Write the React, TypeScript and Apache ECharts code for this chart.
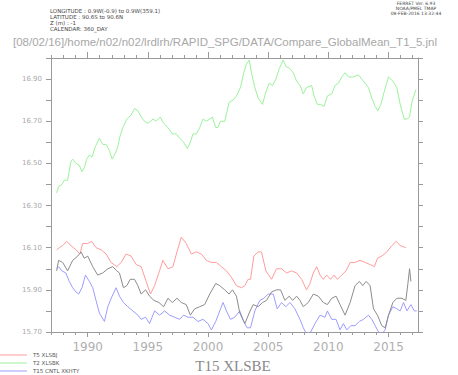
import React, { useEffect, useRef } from "react";
import * as echarts from "echarts";

const redYears = [1987.42,1987.64,1987.92,1988.25,1988.61,1989.03,1989.36,1989.58,1990.0,1990.33,1990.69,1991.11,1991.53,1991.94,1992.42,1992.78,1993.19,1993.61,1994.03,1994.44,1994.86,1995.22,1995.56,1995.97,1996.25,1996.67,1997.08,1997.42,1997.78,1998.19,1998.61,1999.03,1999.44,1999.86,2000.28,2000.69,2001.11,2001.53,2001.94,2002.36,2002.78,2003.06,2003.33,2003.53,2003.81,2004.17,2004.44,2004.81,2005.28,2005.69,2006.11,2006.53,2006.94,2007.36,2007.78,2008.19,2008.47,2008.75,2009.03,2009.31,2009.58,2009.86,2010.19,2010.47,2010.75,2011.11,2011.47,2011.81,2012.22,2012.64,2013.06,2013.47,2013.83,2014.08,2014.44,2014.86,2015.28,2015.64,2015.97,2016.44];
const redValues = [16.09,16.10,16.11,16.13,16.11,16.09,16.07,16.12,16.12,16.13,16.10,16.09,16.07,16.03,16.01,16.03,16.07,16.06,16.02,16.01,15.94,15.88,15.92,15.99,16.04,16.00,16.01,16.08,16.15,16.12,16.07,16.08,16.07,16.04,16.03,16.03,16.01,15.99,15.96,15.92,15.91,15.92,15.95,15.95,16.06,16.08,16.08,15.99,15.95,16.00,16.00,15.98,15.99,15.98,15.95,15.90,15.93,15.98,16.01,15.97,15.95,15.97,15.95,15.97,15.95,15.97,15.99,16.03,16.03,16.04,16.03,16.02,16.01,16.05,16.06,16.08,16.11,16.13,16.11,16.10];

const blackYears = [1987.42,1987.58,1987.92,1988.33,1988.75,1989.17,1989.44,1989.72,1990.0,1990.42,1990.83,1991.25,1991.67,1992.08,1992.42,1992.64,1992.97,1993.25,1993.53,1993.89,1994.17,1994.44,1994.81,1995.14,1995.5,1995.92,1996.31,1996.67,1997.03,1997.42,1997.78,1998.19,1998.53,1998.89,1999.31,1999.72,2000.14,2000.64,2000.97,2001.39,2001.75,2002.03,2002.36,2002.64,2003.06,2003.42,2003.75,2004.17,2004.53,2004.86,2005.28,2005.69,2006.03,2006.39,2006.75,2007.03,2007.36,2007.64,2007.92,2008.33,2008.75,2009.17,2009.58,2009.92,2010.28,2010.64,2010.97,2011.39,2011.81,2012.22,2012.58,2012.86,2013.14,2013.47,2013.75,2014.08,2014.44,2014.72,2015.0,2015.36,2015.69,2016.11,2016.44,2016.61,2016.75,2016.86];
const blackValues = [15.99,16.04,16.03,15.99,16.04,16.06,16.08,16.05,16.06,16.01,15.97,15.98,16.00,16.01,15.99,15.98,15.91,15.92,15.95,15.95,15.92,15.88,15.90,15.87,15.85,15.84,15.82,15.86,15.84,15.86,15.84,15.83,15.78,15.81,15.82,15.83,15.88,15.93,15.92,15.90,15.88,15.90,15.87,15.79,15.74,15.79,15.83,15.82,15.84,15.85,15.89,15.90,15.90,15.85,15.87,15.85,15.87,15.85,15.82,15.84,15.88,15.87,15.84,15.83,15.86,15.87,15.83,15.78,15.84,15.92,15.94,15.92,15.94,15.92,15.81,15.78,15.73,15.72,15.78,15.84,15.86,15.86,15.85,15.93,16.00,15.94];

const blueYears = [1987.42,1987.58,1987.86,1988.19,1988.47,1988.75,1989.03,1989.25,1989.53,1989.81,1990.14,1990.42,1990.69,1990.97,1991.39,1991.67,1992.03,1992.36,1992.64,1992.97,1993.33,1993.75,1994.17,1994.44,1994.81,1995.14,1995.56,1995.97,1996.39,1996.81,1997.22,1997.64,1997.97,1998.33,1998.75,1999.17,1999.58,2000.0,2000.28,2000.64,2000.97,2001.25,2001.53,2001.86,2002.22,2002.64,2002.97,2003.25,2003.53,2003.89,2004.31,2004.64,2005.0,2005.42,2005.75,2006.11,2006.47,2006.81,2007.22,2007.64,2007.92,2008.19,2008.53,2008.89,2009.31,2009.72,2009.92,2010.28,2010.64,2010.97,2011.25,2011.53,2011.86,2012.22,2012.58,2012.92,2013.33,2013.61,2013.89,2014.17,2014.44,2014.72,2015.0,2015.36,2015.69,2015.97,2016.25,2016.53,2016.86,2017.14,2017.35];
const blueValues = [16.00,16.01,15.99,15.98,15.94,15.91,15.89,15.88,15.91,15.97,15.94,15.91,15.85,15.79,15.75,15.82,15.87,15.91,15.87,15.84,15.82,15.80,15.78,15.76,15.77,15.74,15.80,15.78,15.80,15.78,15.77,15.76,15.78,15.77,15.77,15.75,15.76,15.74,15.71,15.75,15.80,15.84,15.80,15.76,15.77,15.80,15.75,15.72,15.72,15.80,15.85,15.86,15.88,15.88,15.81,15.84,15.82,15.84,15.81,15.76,15.72,15.69,15.70,15.74,15.78,15.77,15.80,15.76,15.76,15.71,15.74,15.71,15.73,15.73,15.75,15.76,15.78,15.76,15.73,15.70,15.69,15.71,15.78,15.82,15.81,15.80,15.84,15.80,15.83,15.80,15.80];

const greenYears = [1987.42,1987.58,1987.86,1988.06,1988.33,1988.61,1988.75,1989.03,1989.31,1989.53,1989.72,1989.92,1990.14,1990.36,1990.64,1990.97,1991.25,1991.53,1991.81,1992.03,1992.31,1992.5,1992.69,1992.92,1993.25,1993.61,1993.89,1994.17,1994.44,1994.72,1995.0,1995.42,1995.69,1996.03,1996.31,1996.67,1997.03,1997.36,1997.64,1997.97,1998.28,1998.53,1998.75,1999.03,1999.31,1999.58,1999.86,2000.14,2000.36,2000.64,2000.83,2001.03,2001.39,2001.75,2002.08,2002.36,2002.69,2002.97,2003.19,2003.42,2003.61,2003.89,2004.17,2004.53,2004.81,2005.08,2005.36,2005.64,2005.92,2006.25,2006.47,2006.81,2007.08,2007.36,2007.64,2007.92,2008.19,2008.61,2008.81,2009.08,2009.36,2009.64,2009.92,2010.28,2010.56,2010.83,2011.11,2011.39,2011.67,2012.08,2012.5,2012.78,2013.06,2013.33,2013.61,2013.89,2014.11,2014.36,2014.64,2015.0,2015.36,2015.69,2015.97,2016.31,2016.53,2016.75,2016.94,2017.28];
const greenValues = [16.36,16.39,16.40,16.42,16.42,16.51,16.52,16.50,16.49,16.46,16.48,16.52,16.54,16.53,16.58,16.62,16.59,16.59,16.56,16.52,16.55,16.58,16.63,16.67,16.71,16.73,16.76,16.75,16.72,16.70,16.69,16.71,16.70,16.72,16.69,16.67,16.64,16.64,16.62,16.60,16.57,16.60,16.64,16.64,16.67,16.71,16.70,16.71,16.72,16.67,16.67,16.70,16.70,16.79,16.80,16.82,16.86,16.93,16.97,16.99,16.93,16.86,16.81,16.78,16.84,16.88,16.87,16.90,16.95,16.99,16.96,16.95,16.93,16.89,16.87,16.83,16.86,16.87,16.82,16.78,16.78,16.77,16.82,16.83,16.87,16.88,16.91,16.93,16.91,16.91,16.92,16.90,16.88,16.86,16.81,16.77,16.75,16.78,16.84,16.91,16.89,16.86,16.78,16.71,16.71,16.72,16.79,16.85];

const xLabelYears = [1990, 1995, 2000, 2005, 2010, 2015];
const xMinorYears = [1987,1988,1989,1990,1991,1992,1993,1994,1995,1996,1997,1998,1999,2000,2001,2002,2003,2004,2005,2006,2007,2008,2009,2010,2011,2012,2013,2014,2015,2016,2017];
const yLabelValues = [15.7, 15.9, 16.1, 16.3, 16.5, 16.7, 16.9];
const yTickValues = [15.7,15.8,15.9,16.0,16.1,16.2,16.3,16.4,16.5,16.6,16.7,16.8,16.9,17.0];

const legendNames = ["T5 XLSBJ", "T2 XLSBK", "T15 CNTL XKHTY"];
const headerLeft = ["LONGITUDE : 0.9W(-0.9) to 0.9W(359.1)", "LATITUDE : 90.6S to 90.6N", "Z (m) : -1", "CALENDAR: 360_DAY"];
const headerRight = ["FERRET Ver. 6.93", "NOAA/PMEL TMAP", "08-FEB-2016 13:32:44"];
const pathTitle = "[08/02/16]/home/n02/n02/lrdlrh/RAPID_SPG/DATA/Compare_GlobalMean_T1_5.jnl";
const mainTitle = "T15 XLSBE";

const RED = "#ff9c9c";
const GREEN = "#9cf29c";
const BLUE = "#9c9cff";
const BLACK = "#8c8c8c";
const AXIS = "#9a9a9a";

const zip = (xs: number[], ys: number[]) => xs.map((x, i) => [x, ys[i]]);

export default function App() {
  const ref = useRef<HTMLDivElement>(null);
  useEffect(() => {
    document.body.style.margin = "0";
    const chart = echarts.init(ref.current!, null, { renderer: "svg" });
    const xBase = {
      type: "value" as const,
      min: 1986.95,
      max: 2017.45,
      splitLine: { show: false },
    };
    const yBase = {
      type: "value" as const,
      min: 15.7,
      max: 17.0,
      splitLine: { show: false },
    };
    const lineSeries = (name: string, data: number[][], color: string) => ({
      type: "line",
      name,
      data,
      showSymbol: false,
      symbol: "none",
      lineStyle: { color, width: 1 },
      itemStyle: { color },
      clip: true,
      silent: true,
    });
    const small = (text: string, x: number, y: number, size: number, color: string, align = "left") => ({
      type: "text",
      x,
      y,
      style: { text, fontSize: size, fontFamily: "DejaVu Sans", fill: color, textAlign: align, textVerticalAlign: "middle" },
    });
    const graphics: any[] = [];
    headerLeft.forEach((t, i) => graphics.push(small(t, 50, 11 + i * 6, 5.5, "#444")));
    headerRight.forEach((t, i) => graphics.push(small(t, 416, 3 + i * 5, 4.5, "#444", "center")));
    graphics.push({
      type: "text",
      x: 13,
      y: 42,
      style: { text: pathTitle, fontSize: 11.5, fontFamily: "Liberation Sans", fill: "#a8a8a8", textVerticalAlign: "middle" },
    });
    const legColors = [RED, GREEN, BLUE];
    legendNames.forEach((t, i) => {
      const y = 355 + i * 8;
      graphics.push({ type: "line", shape: { x1: 0, y1: y, x2: 27, y2: y }, style: { stroke: legColors[i], lineWidth: 1 } });
      graphics.push(small(t, 33, y, 5.5, "#555"));
    });
    graphics.push({
      type: "text",
      x: 233,
      y: 366,
      style: { text: mainTitle, fontSize: 15, fontFamily: "Liberation Serif", fill: "#8a8a8a", textAlign: "center", textVerticalAlign: "middle" },
    });

    chart.setOption({
      animation: false,
      backgroundColor: "#fff",
      grid: { left: 51, right: 40, top: 58, bottom: 43, containLabel: false },
      xAxis: [
        {
          ...xBase,
          position: "bottom",
          axisLine: { show: true, onZero: false, lineStyle: { color: AXIS, width: 1 } },
          axisTick: { show: true, inside: false, length: 3, customValues: xMinorYears, lineStyle: { color: AXIS } },
          axisLabel: {
            show: true,
            customValues: xLabelYears,
            fontSize: 12,
            fontFamily: "DejaVu Sans",
            color: "#b0b0b0",
            margin: 9,
            formatter: (v: number) => String(Math.round(v)),
          },
        },
        {
          ...xBase,
          position: "bottom",
          axisLine: { show: false },
          axisTick: { show: true, inside: false, length: 5, customValues: xLabelYears, lineStyle: { color: AXIS } },
          axisLabel: { show: false },
        },
        {
          ...xBase,
          position: "top",
          axisLine: { show: true, onZero: false, lineStyle: { color: AXIS, width: 1 } },
          axisTick: { show: true, inside: false, length: 3, customValues: xMinorYears, lineStyle: { color: AXIS } },
          axisLabel: { show: false },
        },
        {
          ...xBase,
          position: "top",
          axisLine: { show: false },
          axisTick: { show: true, inside: false, length: 6, customValues: xLabelYears, lineStyle: { color: AXIS } },
          axisLabel: { show: false },
        },
      ],
      yAxis: [
        {
          ...yBase,
          position: "left",
          axisLine: { show: true, onZero: false, lineStyle: { color: AXIS, width: 1 } },
          axisTick: { show: true, inside: false, length: 5, customValues: yTickValues, lineStyle: { color: AXIS } },
          axisLabel: {
            show: true,
            customValues: yLabelValues,
            fontSize: 7,
            fontFamily: "DejaVu Sans",
            color: "#aaa",
            margin: 9,
            formatter: (v: number) => v.toFixed(2),
          },
        },
        {
          ...yBase,
          position: "right",
          axisLine: { show: true, onZero: false, lineStyle: { color: AXIS, width: 1 } },
          axisTick: { show: true, inside: false, length: 5, customValues: yTickValues, lineStyle: { color: AXIS } },
          axisLabel: { show: false },
        },
      ],
      series: [
        lineSeries("T5 XLSBJ", zip(redYears, redValues), RED),
        lineSeries("T2 XLSBK", zip(greenYears, greenValues), GREEN),
        lineSeries("T15 CNTL XKHTY", zip(blueYears, blueValues), BLUE),
        lineSeries("T15 XLSBE", zip(blackYears, blackValues), BLACK),
      ],
      graphic: graphics,
    });
    return () => chart.dispose();
  }, []);
  return <div ref={ref} style={{ width: 458, height: 375 }} />;
}
